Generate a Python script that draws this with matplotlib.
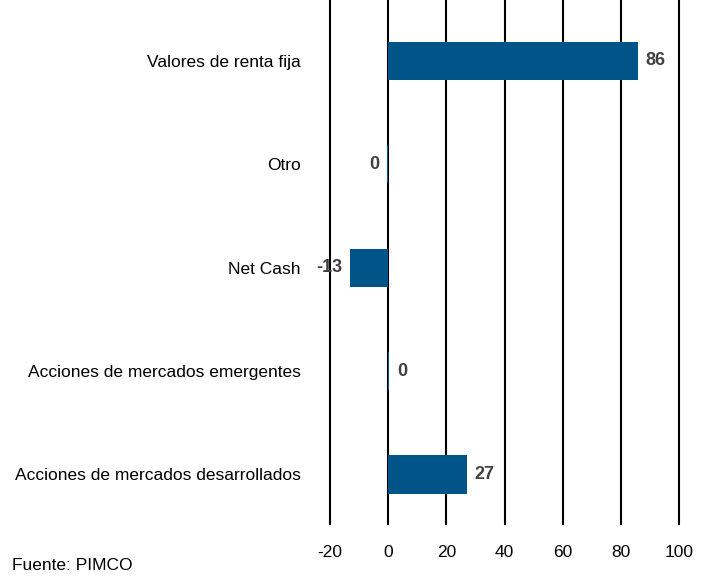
import matplotlib.pyplot as plt
import matplotlib.font_manager as fm

# datos (de abajo hacia arriba)
categorias = ['Acciones de mercados desarrollados', 'Acciones de mercados emergentes',
              'Net Cash', 'Otro', 'Valores de renta fija']
valores = [27, 0.4, -13, -0.3, 86]
xticks = [-20, 0, 20, 40, 60, 80, 100]

nombres = [f.name for f in fm.fontManager.ttflist]
fuente = 'Liberation Sans Narrow' if 'Liberation Sans Narrow' in nombres else 'Liberation Sans'
plt.rcParams['font.family'] = [fuente, 'DejaVu Sans']

fig = plt.figure(figsize=(7.1, 5.76), dpi=100)
ax = fig.add_axes([330 / 710, 1 - 524 / 576, 349 / 710, 524 / 576])

pos = list(range(len(categorias)))
ax.barh(pos, valores, height=0.37, color='#005487', zorder=3)

for p, v in zip(pos, valores):
    txt = str(int(round(v)))
    if v >= 0:
        ax.text(v + 2.6, p, txt, ha='left', va='center', fontsize=13,
                fontweight='bold', color='#404040', zorder=4)
    else:
        ax.text(v - 2.6, p, txt, ha='right', va='center', fontsize=13,
                fontweight='bold', color='#404040', zorder=4)

ax.set_xlim(-20, 100)
ax.set_ylim(-0.48, 4.59)
ax.set_xticks(xticks)
ax.set_xticklabels([str(t) for t in xticks], fontsize=12.5)
ax.set_yticks(pos)
ax.set_yticklabels(categorias, fontsize=12.5)
ax.tick_params(axis='y', length=0, pad=21)
ax.tick_params(axis='x', length=0, pad=15)
ax.grid(axis='x', color='black', linewidth=1.5, zorder=1)
for g in ax.get_xgridlines():
    g.set_clip_on(False)
for s in ax.spines.values():
    s.set_visible(False)

fig.text(12 / 710, 1 - 565 / 576, 'Fuente: PIMCO', fontsize=12.5, ha='left', va='center')

fig.savefig('out.png', dpi=100)
